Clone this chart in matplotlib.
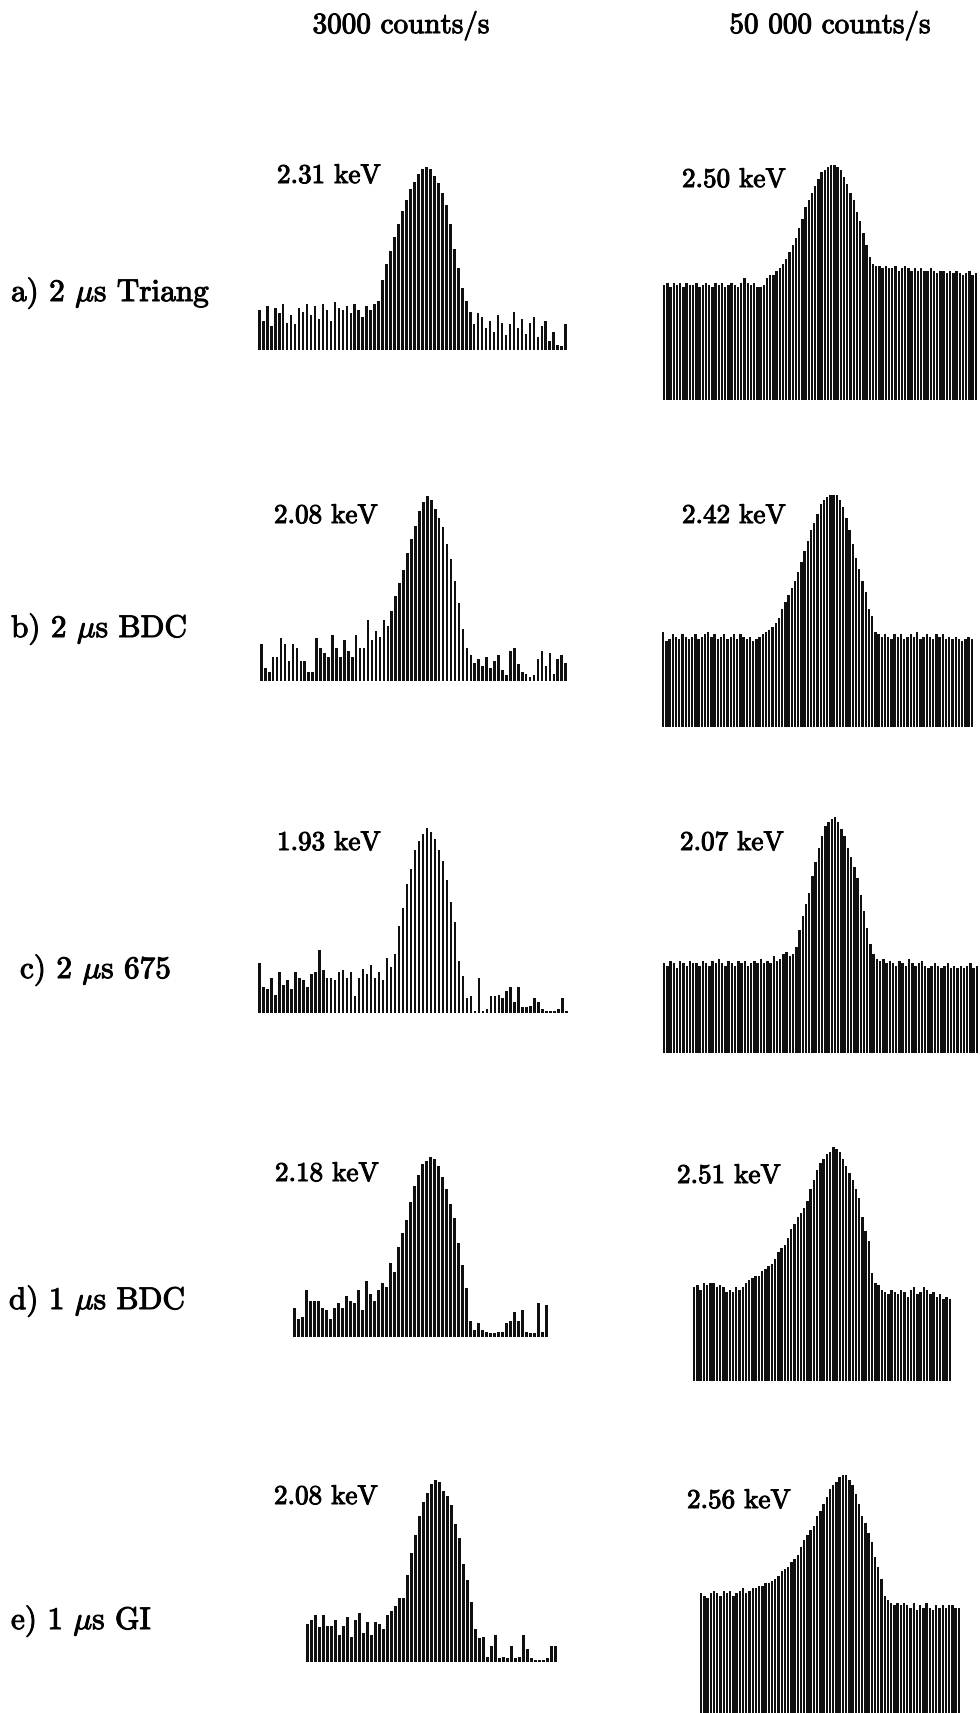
import matplotlib
matplotlib.use('Agg')
import matplotlib.pyplot as plt
import matplotlib.patheffects as pe
import numpy as np

plt.rcParams['mathtext.fontset'] = 'cm'
FONT = 'cmr10'

# ---------------- data (relative counts, peak = 100) ----------------
col_titles = ['3000 counts/s', '50 000 counts/s']
row_labels = [r'a) 2 $\mu$s Triang', r'b) 2 $\mu$s BDC', r'c) 2 $\mu$s 675',
              r'd) 1 $\mu$s BDC', r'e) 1 $\mu$s GI']
fwhm_left = ['2.31 keV', '2.08 keV', '1.93 keV', '2.18 keV', '2.08 keV']
fwhm_right = ['2.50 keV', '2.42 keV', '2.07 keV', '2.51 keV', '2.56 keV']

a_left = [22, 16, 24, 13, 23, 20, 25, 15, 19, 14, 23, 21, 25, 19, 24, 17, 25, 22, 16, 26,
          23, 22, 24, 20, 25, 22, 18, 24, 22, 25,
          27, 38, 47, 54, 62, 69, 76, 82, 88, 92, 96, 99, 100, 99, 95, 91, 86, 79, 69, 55,
          45, 34, 27, 21,
          14, 20, 18, 12, 16, 10, 19, 15, 8, 14, 21, 12, 17, 9, 15, 18, 7, 13, 16, 5, 10, 3, 2, 14]
a_right = [49, 50, 48, 50, 49, 50, 48, 50, 49, 49, 50, 48, 49, 50, 49, 48, 50, 49, 50, 48,
           49, 50, 49, 48, 50, 52, 50, 49, 50, 48, 48, 49,
           52, 53, 53, 55, 56, 58, 60, 63, 66, 69, 73, 77, 82, 85, 88, 91, 94, 97, 98, 99,
           100, 100, 99, 98, 95, 92, 88, 85, 80, 76, 71, 66, 61, 58, 57,
           57, 56, 57, 56, 56, 57, 55, 56, 57, 56, 55, 56, 55, 56, 55, 55, 56, 55, 54, 55,
           55, 54, 55, 54, 55, 54, 53, 54, 55, 53, 54]
b_left = [20, 7, 5, 13, 13, 23, 20, 11, 20, 18, 11, 11, 5, 5, 23, 18, 15, 13, 25, 18,
          13, 22, 16, 13, 25, 18, 18, 33, 22, 27, 24,
          33, 30, 38, 46, 53, 60, 69, 77, 84, 92, 97, 100, 98, 93, 88, 83, 74, 66, 54, 42, 28, 18,
          14, 10, 12, 8, 13, 7, 11, 14, 6, 3, 16, 18, 9, 5, 4, 2, 3, 12, 16, 8, 15, 4, 12, 14, 10]
b_right = [41, 37, 38, 40, 39, 38, 40, 39, 38, 39, 40, 38, 39, 40, 41, 39, 40, 38, 39, 40,
           38, 39, 40, 38, 40, 39, 38, 39, 37, 38, 39, 40, 41,
           42, 43, 45, 47, 51, 54, 57, 60, 63, 67, 71, 76, 80, 85, 88, 92, 96, 98, 99, 100,
           100, 100, 98, 95, 90, 85, 79, 73, 68, 63, 58, 51, 48, 41,
           40, 39, 40, 39, 38, 40, 39, 40, 38, 39, 40, 39, 41, 38, 39, 40, 39, 38, 40, 39,
           40, 38, 39, 38, 39, 38, 37, 38, 39, 38]
c_left = [27, 14, 13, 19, 10, 22, 15, 18, 13, 22, 19, 18, 14, 21, 22, 34, 23, 19, 19, 18,
          22, 23, 19, 22, 9, 19, 24, 21, 26, 19, 22, 18,
          30, 25, 32, 47, 57, 70, 78, 88, 93, 97, 100, 98, 94, 88, 82, 72, 60, 49, 28, 20, 8,
          9, 1, 19, 1, 2, 9, 9, 10, 8, 12, 14, 6, 14, 3, 3, 4, 8, 6, 2, 1, 1, 1, 2, 8, 1]
c_right = [38, 37, 39, 38, 36, 39, 38, 37, 39, 38, 38, 37, 39, 38, 37, 39, 38, 40, 38, 37,
           39, 38, 37, 39, 38, 39, 37, 38, 39, 38, 40, 38, 39, 38, 41, 39, 40, 42,
           43, 41, 42, 45, 52, 58, 63, 68, 75, 81, 87, 92, 96, 98, 99, 100, 98, 95, 92, 87,
           83, 79, 74, 67, 60, 53, 46, 42, 40,
           39, 40, 38, 39, 38, 37, 39, 38, 37, 40, 38, 37, 38, 39, 37, 36, 37, 38, 37, 36,
           37, 38, 36, 37, 36, 37, 36, 37, 38, 36, 37]
d_left = [16, 10, 11, 26, 20, 20, 20, 16, 15, 10, 16, 19, 16, 23, 20, 19, 26, 15, 31, 24,
          20, 26, 30, 28,
          41, 36, 50, 58, 65, 75, 84, 90, 96, 98, 100, 99, 95, 89, 82, 74, 66, 52, 40, 27, 9, 4,
          8, 4, 3, 2, 2, 3, 3, 8, 9, 14, 9, 15, 3, 2, 2, 19, 3, 18]
d_right = [40, 41, 39, 42, 41, 42, 42, 40, 41, 40, 38, 39, 38, 40,
           39, 40, 42, 43, 44, 45, 45, 47, 48, 49, 50, 52, 55, 57, 58, 61, 65, 67, 70, 72,
           74, 77, 82, 86, 90, 93, 95, 97, 98, 100, 99, 98, 95, 92, 89, 86, 82, 78, 70, 64,
           60, 46, 42, 41, 39,
           38, 37, 39, 38, 37, 39, 38, 36, 39, 40, 37, 38, 40, 39, 37, 38, 36, 37, 35, 36, 35]
e_left = [21, 23, 26, 19, 26, 20, 20, 23, 15, 20, 25, 14, 23, 27, 16, 22, 15, 22, 21, 18,
          26, 28, 31, 35, 35, 48, 60, 70, 80, 88, 93, 98, 100, 99, 94, 91, 86, 76, 68, 54,
          45, 33, 18, 13,
          14, 3, 9, 15, 2, 3, 2, 9, 2, 3, 15, 7, 2, 1, 1, 1, 2, 9, 9]
e_right = [51, 50, 49, 51, 52, 51, 50, 52, 51, 52, 50, 51, 52, 53, 51, 52, 53, 53, 54, 54, 55,
           55, 56, 57, 58, 60, 61, 62, 64, 65, 67, 70, 73, 75, 77, 79, 83, 85, 88, 91, 94,
           96, 97, 99, 100, 100, 98, 96, 92, 88, 83, 80, 76, 72, 66, 62, 57, 50, 48,
           47, 46, 47, 46, 47, 46, 45, 47, 44, 46, 45, 47, 45, 44, 46, 45, 46, 45, 46, 46, 45, 45]

left_spectra = [a_left, b_left, c_left, d_left, e_left]
right_spectra = [a_right, b_right, c_right, d_right, e_right]

# ---------------- layout (pixels) ----------------
W, H = 980, 1713
fig = plt.figure(figsize=(W / 100, H / 100), dpi=100)
fig.patch.set_facecolor('white')

# (x0, x1, baseline, top)
left_boxes = [(258, 567, 350, 167), (260, 567, 681, 496), (258, 568, 1013, 828),
              (293, 548, 1337, 1157), (306, 557, 1662, 1480)]
right_boxes = [(663, 977, 400, 165), (662, 973, 727, 495), (663, 978, 1053, 817),
               (693, 951, 1381, 1147), (700, 960, 1716, 1475)]


def add_panel(vals, box, w):
    x0, x1, yb, yt = box
    ax = fig.add_axes([x0 / W, 1 - yb / H, (x1 - x0) / W, (yb - yt) / H])
    n = len(vals)
    ax.bar(np.arange(n), vals, width=w, color='#101010', linewidth=0)
    ax.set_xlim(-w / 2, n - 1 + w / 2)
    ax.set_ylim(0, 100)
    ax.axis('off')
    return ax


for vals, box in zip(left_spectra, left_boxes):
    add_panel(vals, box, 0.66)
for vals, box in zip(right_spectra, right_boxes):
    add_panel(vals, box, 0.74)

heavy = [pe.withStroke(linewidth=0.7, foreground='black')]


def ptext(x, y, s, size, ha='left'):
    fig.text(x / W, 1 - y / H, s, fontsize=size, family=FONT, ha=ha, va='baseline',
             path_effects=heavy)


ptext(401, 33, col_titles[0], 21, ha='center')
ptext(830, 33, col_titles[1], 21, ha='center')

label_pos = [(11, 301), (11, 637), (20, 978), (9, 1309), (11, 1629)]
for (x, y), s in zip(label_pos, row_labels):
    ptext(x, y, s, 22.5)

kev_left_pos = [(277, 183), (274, 523), (277, 850), (275, 1181), (274, 1504)]
kev_right_pos = [(682, 187), (682, 523), (680, 850), (677, 1183), (687, 1508)]
for (x, y), s in zip(kev_left_pos, fwhm_left):
    ptext(x, y, s, 19.5)
for (x, y), s in zip(kev_right_pos, fwhm_right):
    ptext(x, y, s, 19.5)

fig.savefig('out.png', dpi=100, facecolor='white')
